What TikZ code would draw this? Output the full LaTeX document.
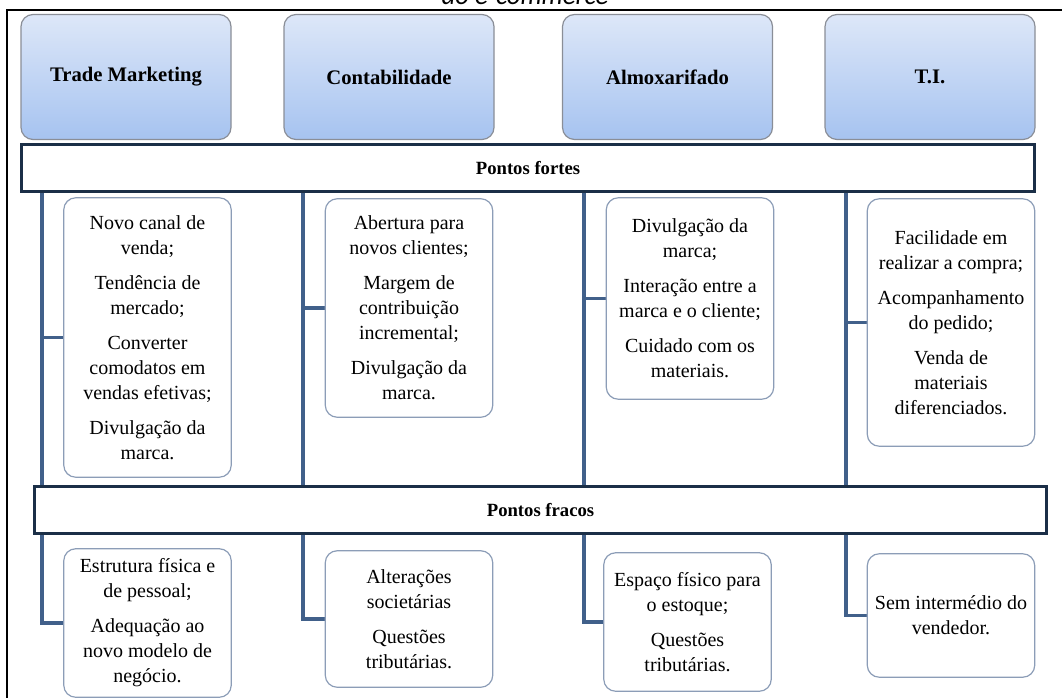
\documentclass[tikz,border=0pt]{standalone}
\usepackage{fontspec}
\setmainfont{Liberation Serif}
\newfontfamily\itemfont{Liberation Serif}
\newfontfamily\captionfont{Carlito}
\usepackage{xcolor}
\usetikzlibrary{backgrounds}

\definecolor{trunkblue}{HTML}{41608A}
\definecolor{barnavy}{HTML}{1B2F47}
\definecolor{headtop}{HTML}{DDE7F8}
\definecolor{headbot}{HTML}{A6C3F0}
\definecolor{headedge}{HTML}{8A8E97}
\definecolor{itemedge}{HTML}{8C9DB7}

\tikzset{
  head/.style={draw=headedge,line width=0.9pt,rounded corners=9pt,top color=headtop,bottom color=headbot,
    minimum width=157.5pt,minimum height=93.75pt,font=\itemfont\fontsize{15.5}{18}\selectfont\bfseries},
  bar/.style={draw=barnavy,line width=2.4pt,fill=white,minimum height=35.3pt,font=\itemfont\fontsize{14}{17}\selectfont\bfseries},
  item/.style={draw=itemedge,line width=0.9pt,rounded corners=9pt,fill=white,minimum width=125.6pt,
    align=center,inner sep=2pt,font=\itemfont\fontsize{15}{18.75}\selectfont},
  trunk/.style={draw=trunkblue,line width=2.4pt}
}

\begin{document}
\begin{tikzpicture}[x=0.75pt,y=-0.75pt]
  \useasboundingbox (0,0) rectangle (1062,698);
  \node[font=\captionfont\itshape\fontsize{20}{24}\selectfont,anchor=base] (title) at (525,5) {do e-commerce};
  \draw[line width=1.5pt] (7,700) -- (7,10) -- (1064,10);

  % departamentos
  \node[head] (trade) at (126,77) {Trade Marketing};
  \node[head] (conta) at (389,77) {Contabilidade};
  \node[head] (almox) at (667.5,77) {Almoxarifado};
  \node[head] (ti) at (930,77) {T.I.};

  \node[bar,minimum width=759.75pt] (fortes) at (528,168) {Pontos fortes};
  \node[bar,minimum width=759pt] (fracos) at (540.5,510) {Pontos fracos};

  \coordinate (t1) at (42,0); \coordinate (t2) at (303,0); \coordinate (t3) at (584,0); \coordinate (t4) at (846,0);

  % pontos fortes
  \node[item,minimum height=209.6pt] (f1) at (147.5,337.5) {Novo canal de\\venda;\\[7.5pt]Tendência de\\mercado;\\[7.5pt]Converter\\comodatos em\\vendas efetivas;\\[7.5pt]Divulgação da\\marca.};
  \node[item,minimum height=163.9pt] (f2) at (409,308) {Abertura para\\novos clientes;\\[7.5pt]Margem de\\contribuição\\incremental;\\[7.5pt]Divulgação da\\marca.};
  \node[item,minimum height=151.1pt] (f3) at (690,298.5) {Divulgação da\\marca;\\[7.5pt]Interação entre a\\marca e o cliente;\\[7.5pt]Cuidado com os\\materiais.};
  \node[item,minimum height=185.6pt] (f4) at (951,322.5) {Facilidade em\\realizar a compra;\\[7.5pt]Acompanhamento\\do pedido;\\[7.5pt]Venda de\\materiais\\diferenciados.};

  % pontos fracos
  \node[item,minimum height=111.4pt] (w1) at (147.5,623) {Estrutura física e\\de pessoal;\\[7.5pt]Adequação ao\\novo modelo de\\negócio.};
  \node[item,minimum height=102.4pt] (w2) at (409,619) {Alterações\\societárias\\[7.5pt]Questões\\tributárias.};
  \node[item,minimum height=103.9pt] (w3) at (687.5,622) {Espaço físico para\\o estoque;\\[7.5pt]Questões\\tributárias.};
  \node[item,minimum height=92.6pt] (w4) at (951,615.5) {Sem intermédio do\\vendedor.};

  \begin{scope}[on background layer]
    \draw[trunk] (fortes.south -| t1) -- (fracos.north -| t1); \draw[trunk] (f1.west -| t1) -- (f1.west);
    \draw[trunk] (fortes.south -| t2) -- (fracos.north -| t2); \draw[trunk] (f2.west -| t2) -- (f2.west);
    \draw[trunk] (fortes.south -| t3) -- (fracos.north -| t3); \draw[trunk] (f3.west -| t3) -- (f3.west);
    \draw[trunk] (fortes.south -| t4) -- (fracos.north -| t4); \draw[trunk] (f4.west -| t4) -- (f4.west);
    \draw[trunk] (fracos.south -| t1) |- (w1.west);
    \draw[trunk] (fracos.south -| t2) |- (w2.west);
    \draw[trunk] (fracos.south -| t3) |- (w3.west);
    \draw[trunk] (fracos.south -| t4) |- (w4.west);
  \end{scope}
\end{tikzpicture}
\end{document}
